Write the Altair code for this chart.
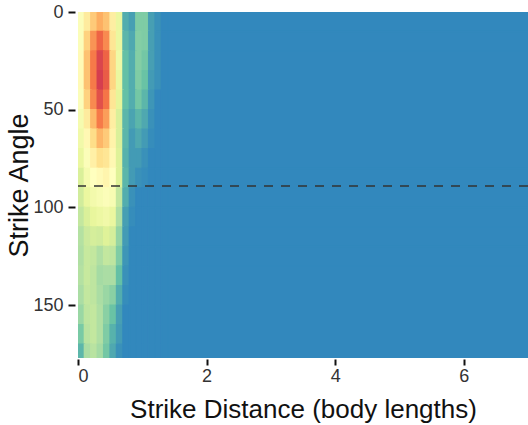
import altair as alt
import pandas as pd

# Strike distance bin edges (body lengths); last bin is the empty far region
distance_edges = [0.0, 0.1, 0.2, 0.3, 0.4, 0.5, 0.6, 0.7, 0.8, 0.9, 1.0, 1.1, 1.2, 1.3, 1.4, 7.0]
# Strike angle bin edges (degrees)
angle_edges = [0, 10, 20, 30, 40, 50, 60, 70, 80, 90, 100, 110, 120, 130, 140, 150, 160, 170, 180]

# normalised density per angle row (one value per distance bin)
r000 = [0.48, 0.58, 0.68, 0.75, 0.70, 0.57, 0.40, 0.08, 0.05, 0.17, 0.17, 0.05, 0.02, 0.00, 0.0]
r010 = [0.48, 0.66, 0.80, 0.90, 0.82, 0.60, 0.40, 0.10, 0.07, 0.18, 0.17, 0.05, 0.02, 0.00, 0.0]
r020 = [0.52, 0.70, 0.85, 0.98, 0.90, 0.65, 0.42, 0.12, 0.08, 0.18, 0.15, 0.05, 0.02, 0.00, 0.0]
r030 = [0.52, 0.70, 0.85, 1.00, 0.92, 0.65, 0.40, 0.12, 0.08, 0.17, 0.13, 0.04, 0.02, 0.00, 0.0]
r040 = [0.48, 0.66, 0.82, 0.95, 0.86, 0.60, 0.38, 0.12, 0.08, 0.15, 0.10, 0.03, 0.00, 0.00, 0.0]
r050 = [0.45, 0.58, 0.72, 0.85, 0.78, 0.57, 0.35, 0.10, 0.06, 0.10, 0.07, 0.02, 0.00, 0.00, 0.0]
r060 = [0.43, 0.53, 0.63, 0.73, 0.68, 0.55, 0.35, 0.10, 0.04, 0.07, 0.04, 0.01, 0.00, 0.00, 0.0]
r070 = [0.40, 0.48, 0.56, 0.62, 0.60, 0.53, 0.36, 0.09, 0.04, 0.04, 0.02, 0.00, 0.00, 0.00, 0.0]
r080 = [0.35, 0.45, 0.50, 0.52, 0.54, 0.50, 0.36, 0.10, 0.04, 0.02, 0.01, 0.00, 0.00, 0.00, 0.0]
r090 = [0.33, 0.40, 0.44, 0.46, 0.48, 0.46, 0.30, 0.08, 0.02, 0.00, 0.00, 0.00, 0.00, 0.00, 0.0]
r100 = [0.30, 0.35, 0.39, 0.41, 0.43, 0.40, 0.26, 0.05, 0.01, 0.00, 0.00, 0.00, 0.00, 0.00, 0.0]
r110 = [0.27, 0.32, 0.34, 0.33, 0.36, 0.34, 0.21, 0.04, 0.00, 0.00, 0.00, 0.00, 0.00, 0.00, 0.0]
r120 = [0.26, 0.31, 0.30, 0.26, 0.30, 0.29, 0.17, 0.03, 0.00, 0.00, 0.00, 0.00, 0.00, 0.00, 0.0]
r130 = [0.27, 0.31, 0.29, 0.24, 0.25, 0.25, 0.12, 0.02, 0.00, 0.00, 0.00, 0.00, 0.00, 0.00, 0.0]
r140 = [0.25, 0.30, 0.29, 0.25, 0.22, 0.19, 0.08, 0.01, 0.00, 0.00, 0.00, 0.00, 0.00, 0.00, 0.0]
r150 = [0.22, 0.29, 0.30, 0.26, 0.19, 0.13, 0.05, 0.00, 0.00, 0.00, 0.00, 0.00, 0.00, 0.00, 0.0]
r160 = [0.16, 0.28, 0.30, 0.26, 0.17, 0.09, 0.04, 0.00, 0.00, 0.00, 0.00, 0.00, 0.00, 0.00, 0.0]
r170 = [0.10, 0.25, 0.28, 0.24, 0.15, 0.07, 0.02, 0.00, 0.00, 0.00, 0.00, 0.00, 0.00, 0.00, 0.0]

rows = [r000, r010, r020, r030, r040, r050, r060, r070, r080,
        r090, r100, r110, r120, r130, r140, r150, r160, r170]

reference_angle = [89]

palette = ["#3288bd", "#66c2a5", "#abdda4", "#e6f598", "#ffffbf",
           "#fee08b", "#fdae61", "#f46d43", "#d53e4f"]

records = []
for i, row in enumerate(rows):
    for j, v in enumerate(row):
        records.append({
            "d0": distance_edges[j], "d1": distance_edges[j + 1],
            "a0": angle_edges[i], "a1": angle_edges[i + 1],
            "v": v,
        })
df = pd.DataFrame(records)

color_scale = alt.Scale(domain=[0, 1], range=palette, interpolate="rgb")
x_scale = alt.Scale(domain=[0, 7], nice=False, zero=False)
y_scale = alt.Scale(domain=[0, 177], reverse=True, nice=False, zero=False)

x_axis = alt.Axis(title="Strike Distance (body lengths)", values=[0, 2, 4, 6],
                  titleY=50, titleBaseline="middle", titleFontSize=26,
                  ticks=True, tickSize=6, offset=1, labelPadding=2, zindex=1)
y_axis = alt.Axis(title="Strike Angle", values=[0, 50, 100, 150],
                  titleX=-56, titleBaseline="middle", titleFontSize=27,
                  ticks=True, tickSize=7, offset=3, labelPadding=5, zindex=1)

heat = alt.Chart(df).mark_rect(clip=True, strokeWidth=1.5).encode(
    x=alt.X("d0:Q", scale=x_scale, axis=x_axis),
    x2="d1:Q",
    y=alt.Y("a0:Q", scale=y_scale, axis=y_axis),
    y2="a1:Q",
    color=alt.Color("v:Q", scale=color_scale, legend=None),
    stroke=alt.Color("v:Q", scale=color_scale, legend=None),
)

rule = alt.Chart(pd.DataFrame({"a": reference_angle})).mark_rule(
    color="#333333", strokeWidth=1.5, strokeDash=[9, 8]
).encode(y=alt.Y("a:Q", scale=y_scale))

chart = alt.layer(heat, rule).properties(
    width=450, height=346,
    autosize=alt.AutoSizeParams(type="none"),
    padding={"left": 78, "top": 12, "right": 0, "bottom": 67},
).configure_view(stroke=None).configure_axis(
    domain=False, grid=False,
    tickColor="#111111", tickWidth=2,
    labelFont="Liberation Sans", labelFontSize=18, labelColor="#333333",
    titleFont="Liberation Sans", titleFontWeight="normal",
    titleColor="#111111",
)

chart.save("out.html", embed_options={"renderer": "svg", "actions": False})
